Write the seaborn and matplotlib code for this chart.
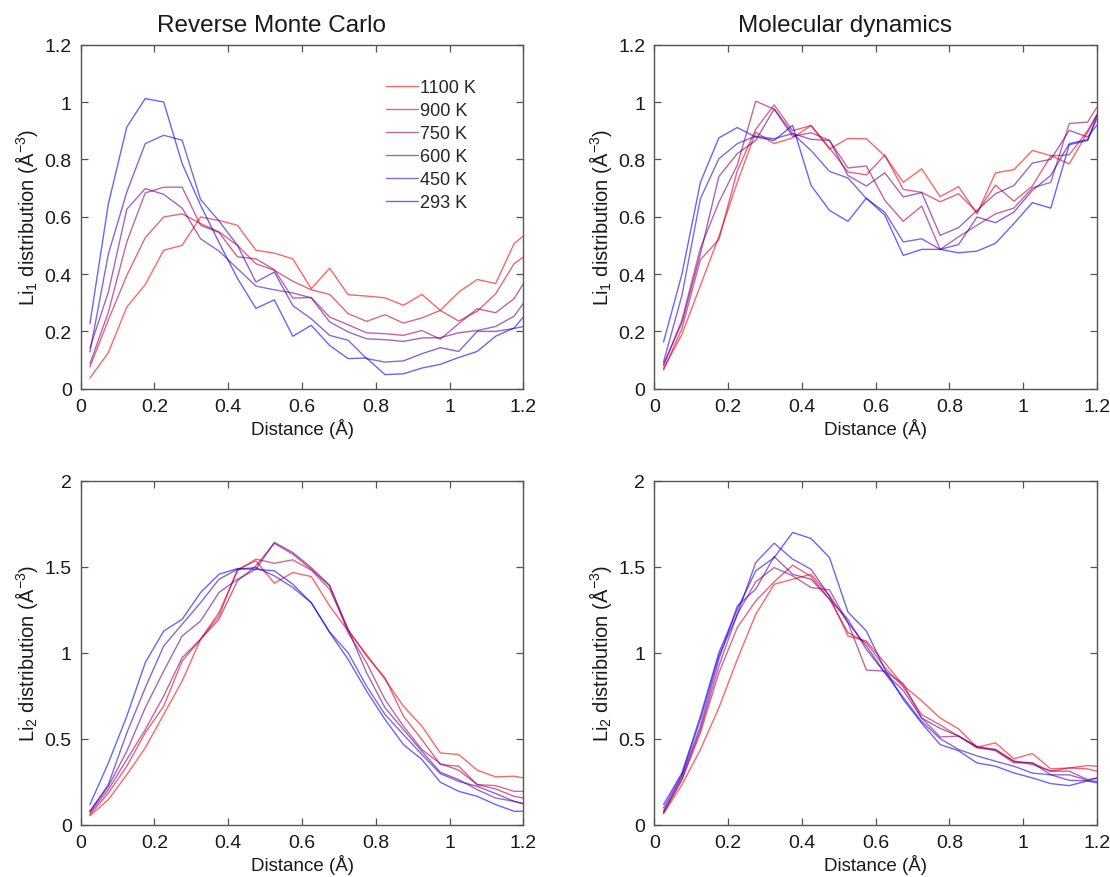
import numpy as np
import pandas as pd
import matplotlib
matplotlib.use("Agg")
import matplotlib.pyplot as plt
import seaborn as sns
from matplotlib.ticker import FuncFormatter, MultipleLocator

# ---------------- data ----------------
distance = [0.025, 0.075, 0.125, 0.175, 0.225, 0.275, 0.325, 0.375, 0.425, 0.475,
            0.525, 0.575, 0.625, 0.675, 0.725, 0.775, 0.825, 0.875, 0.925, 0.975,
            1.025, 1.075, 1.125, 1.175, 1.2]
temperatures = ["1100 K", "900 K", "750 K", "600 K", "450 K", "293 K"]
colors = [(1.0, 0.0, 0.0), (0.8, 0.0, 0.2), (0.6, 0.0, 0.4),
          (0.4, 0.0, 0.6), (0.2, 0.0, 0.8), (0.0, 0.0, 1.0)]

rmc_li1_1100 = [0.037, 0.126, 0.285, 0.363, 0.483, 0.500, 0.599, 0.587, 0.570, 0.483, 0.473, 0.453, 0.349,
                0.420, 0.328, 0.323, 0.317, 0.291, 0.329, 0.273, 0.337, 0.381, 0.367, 0.506, 0.533]
rmc_li1_900 = [0.076, 0.240, 0.395, 0.527, 0.599, 0.610, 0.576, 0.547, 0.500, 0.436, 0.413, 0.375, 0.345,
               0.329, 0.262, 0.235, 0.258, 0.229, 0.247, 0.273, 0.236, 0.270, 0.331, 0.436, 0.459]
rmc_li1_750 = [0.087, 0.267, 0.512, 0.683, 0.703, 0.703, 0.570, 0.545, 0.460, 0.453, 0.415, 0.316, 0.318,
               0.250, 0.223, 0.195, 0.192, 0.186, 0.203, 0.173, 0.227, 0.279, 0.265, 0.314, 0.366]
rmc_li1_600 = [0.142, 0.337, 0.626, 0.698, 0.678, 0.630, 0.523, 0.480, 0.419, 0.358, 0.345, 0.334, 0.317,
               0.233, 0.198, 0.174, 0.171, 0.165, 0.177, 0.178, 0.195, 0.203, 0.217, 0.253, 0.297]
rmc_li1_450 = [0.128, 0.470, 0.686, 0.855, 0.884, 0.867, 0.660, 0.585, 0.500, 0.372, 0.407, 0.290, 0.244,
               0.186, 0.169, 0.105, 0.093, 0.097, 0.122, 0.143, 0.130, 0.200, 0.200, 0.210, 0.217]
rmc_li1_293 = [0.227, 0.645, 0.913, 1.012, 1.000, 0.785, 0.640, 0.510, 0.385, 0.280, 0.310, 0.183, 0.221,
               0.151, 0.105, 0.107, 0.049, 0.052, 0.072, 0.085, 0.109, 0.130, 0.183, 0.212, 0.250]

md_li1_1100 = [0.070, 0.190, 0.360, 0.530, 0.720, 0.895, 0.855, 0.875, 0.918, 0.836, 0.873, 0.872, 0.812,
               0.720, 0.767, 0.670, 0.705, 0.610, 0.753, 0.764, 0.831, 0.813, 0.784, 0.895, 0.958]
md_li1_900 = [0.065, 0.210, 0.450, 0.520, 0.760, 0.905, 0.990, 0.900, 0.918, 0.840, 0.756, 0.746, 0.815,
              0.695, 0.685, 0.652, 0.680, 0.616, 0.710, 0.654, 0.707, 0.812, 0.816, 0.900, 0.953]
md_li1_750 = [0.080, 0.240, 0.490, 0.650, 0.780, 1.003, 0.975, 0.880, 0.893, 0.866, 0.770, 0.777, 0.657,
              0.584, 0.637, 0.486, 0.530, 0.570, 0.610, 0.630, 0.700, 0.720, 0.925, 0.930, 0.982]
md_li1_600 = [0.085, 0.230, 0.470, 0.740, 0.820, 0.866, 0.976, 0.890, 0.870, 0.866, 0.744, 0.707, 0.753,
              0.669, 0.684, 0.535, 0.562, 0.622, 0.680, 0.709, 0.787, 0.800, 0.901, 0.878, 0.919]
md_li1_450 = [0.093, 0.326, 0.663, 0.802, 0.855, 0.881, 0.872, 0.890, 0.831, 0.758, 0.735, 0.663, 0.616,
              0.512, 0.523, 0.486, 0.503, 0.599, 0.579, 0.616, 0.692, 0.744, 0.855, 0.869, 0.942]
md_li1_293 = [0.163, 0.400, 0.720, 0.875, 0.911, 0.878, 0.866, 0.919, 0.709, 0.622, 0.584, 0.665, 0.605,
              0.465, 0.486, 0.486, 0.474, 0.480, 0.507, 0.576, 0.649, 0.630, 0.851, 0.866, 0.953]

rmc_li2_1100 = [0.052, 0.146, 0.291, 0.447, 0.641, 0.835, 1.078, 1.214, 1.485, 1.534, 1.404, 1.466, 1.443,
                1.272, 1.126, 0.990, 0.845, 0.689, 0.573, 0.417, 0.408, 0.317, 0.278, 0.282, 0.272]
rmc_li2_900 = [0.058, 0.184, 0.340, 0.534, 0.689, 0.951, 1.078, 1.233, 1.476, 1.544, 1.520, 1.540, 1.480,
               1.369, 1.136, 0.980, 0.854, 0.631, 0.495, 0.350, 0.340, 0.233, 0.227, 0.194, 0.194]
rmc_li2_750 = [0.068, 0.204, 0.379, 0.553, 0.748, 0.971, 1.078, 1.194, 1.417, 1.505, 1.636, 1.573, 1.485,
               1.388, 1.117, 0.942, 0.728, 0.573, 0.437, 0.355, 0.317, 0.233, 0.208, 0.165, 0.155]
rmc_li2_600 = [0.078, 0.223, 0.427, 0.680, 0.893, 1.097, 1.184, 1.350, 1.427, 1.485, 1.641, 1.583, 1.495,
               1.392, 1.136, 0.884, 0.680, 0.553, 0.427, 0.305, 0.262, 0.204, 0.155, 0.136, 0.122]
rmc_li2_450 = [0.078, 0.233, 0.534, 0.796, 1.039, 1.165, 1.291, 1.427, 1.485, 1.495, 1.447, 1.379, 1.291,
               1.120, 1.000, 0.806, 0.641, 0.524, 0.408, 0.297, 0.252, 0.223, 0.181, 0.136, 0.122]
rmc_li2_293 = [0.117, 0.359, 0.631, 0.942, 1.126, 1.194, 1.350, 1.456, 1.489, 1.485, 1.476, 1.398, 1.291,
               1.117, 0.961, 0.777, 0.612, 0.466, 0.379, 0.247, 0.194, 0.165, 0.117, 0.078, 0.078]

md_li2_1100 = [0.064, 0.233, 0.437, 0.680, 0.961, 1.223, 1.398, 1.427, 1.456, 1.330, 1.097, 1.068, 0.942,
               0.810, 0.720, 0.620, 0.557, 0.450, 0.476, 0.383, 0.414, 0.324, 0.330, 0.344, 0.340]
md_li2_900 = [0.068, 0.262, 0.534, 0.883, 1.146, 1.301, 1.412, 1.509, 1.443, 1.311, 1.117, 1.058, 0.913,
              0.800, 0.640, 0.580, 0.515, 0.447, 0.437, 0.369, 0.359, 0.311, 0.330, 0.324, 0.311]
md_li2_750 = [0.072, 0.266, 0.553, 0.922, 1.223, 1.412, 1.495, 1.447, 1.379, 1.365, 1.175, 0.899, 0.893,
              0.820, 0.620, 0.510, 0.515, 0.456, 0.437, 0.369, 0.350, 0.311, 0.311, 0.262, 0.272]
md_li2_600 = [0.078, 0.282, 0.573, 0.961, 1.272, 1.369, 1.559, 1.456, 1.427, 1.311, 1.194, 1.019, 0.883,
              0.780, 0.620, 0.560, 0.515, 0.450, 0.430, 0.360, 0.360, 0.290, 0.290, 0.258, 0.270]
md_li2_450 = [0.097, 0.291, 0.612, 0.981, 1.223, 1.524, 1.637, 1.544, 1.485, 1.330, 1.175, 1.039, 0.883,
              0.740, 0.600, 0.500, 0.437, 0.400, 0.369, 0.340, 0.300, 0.290, 0.258, 0.255, 0.252]
md_li2_293 = [0.117, 0.301, 0.631, 1.000, 1.252, 1.476, 1.553, 1.699, 1.664, 1.553, 1.237, 1.126, 0.903,
              0.728, 0.590, 0.466, 0.430, 0.359, 0.340, 0.301, 0.272, 0.239, 0.227, 0.255, 0.243]

panels = [
    ("Reverse Monte Carlo", "1", 1.2, 0.2,
     [rmc_li1_1100, rmc_li1_900, rmc_li1_750, rmc_li1_600, rmc_li1_450, rmc_li1_293]),
    ("Molecular dynamics", "1", 1.2, 0.2,
     [md_li1_1100, md_li1_900, md_li1_750, md_li1_600, md_li1_450, md_li1_293]),
    (None, "2", 2.0, 0.5,
     [rmc_li2_1100, rmc_li2_900, rmc_li2_750, rmc_li2_600, rmc_li2_450, rmc_li2_293]),
    (None, "2", 2.0, 0.5,
     [md_li2_1100, md_li2_900, md_li2_750, md_li2_600, md_li2_450, md_li2_293]),
]

# ---------------- style ----------------
sns.set_theme(style="white")
plt.rcParams["font.family"] = ["Liberation Sans", "DejaVu Sans"]
plt.rcParams["mathtext.fontset"] = "custom"
plt.rcParams["mathtext.rm"] = "Liberation Sans"
plt.rcParams["mathtext.it"] = "Liberation Sans:italic"
plt.rcParams["mathtext.default"] = "regular"
plt.rcParams["axes.unicode_minus"] = False

W, H = 1110, 878
fig = plt.figure(figsize=(W / 100, H / 100), dpi=100)
axw, axh = 442.6, 344.0
lefts = [80.7, 654.3]
tops = [45.7, 481.7]
positions = [(lefts[0], tops[0]), (lefts[1], tops[0]), (lefts[0], tops[1]), (lefts[1], tops[1])]

fmt = FuncFormatter(lambda v, p: "%g" % round(v, 3))
text_col = "#1a1a1a"
spine_col = "#555555"

for (title, idx, ymax, ystep, series), (lx, ty) in zip(panels, positions):
    ax = fig.add_axes([lx / W, 1 - (ty + axh) / H, axw / W, axh / H])
    for name, col, vals in zip(temperatures, colors, series):
        df = pd.DataFrame({"Distance": distance, "value": vals})
        sns.lineplot(data=df, x="Distance", y="value", color=col, alpha=0.6,
                     linewidth=1.0, ax=ax, label=name, estimator=None, sort=False)
    ax.set_xlim(0, 1.2)
    ax.set_ylim(0, ymax)
    ax.xaxis.set_major_locator(MultipleLocator(0.2))
    ax.yaxis.set_major_locator(MultipleLocator(ystep))
    ax.xaxis.set_major_formatter(fmt)
    ax.yaxis.set_major_formatter(fmt)
    ax.tick_params(direction="in", length=5, width=0.9, colors=spine_col,
                   labelcolor=text_col, labelsize=14, pad=6.5,
                   top=True, right=True, bottom=True, left=True)
    for s in ax.spines.values():
        s.set_color(spine_col)
        s.set_linewidth(1.0)
    ax.set_xlabel("Distance (Å)", fontsize=13.5, color=text_col, labelpad=2)
    ax.set_ylabel("Li$_{%s}$ distribution (Å$^{-3}$)" % idx, fontsize=14.5,
                  color=text_col, labelpad=3)
    if title:
        ax.set_title(title, fontsize=17.5, color=text_col, x=0.43, pad=10)
    if title == "Reverse Monte Carlo":
        ax.legend(loc="upper left", bbox_to_anchor=(0.69, 0.9), frameon=False,
                  fontsize=13, borderpad=0, borderaxespad=0, labelspacing=0.33,
                  handlelength=1.75, handletextpad=0.15)
    else:
        leg = ax.get_legend()
        if leg is not None:
            leg.remove()

fig.savefig("out.png", dpi=100, facecolor="white")
